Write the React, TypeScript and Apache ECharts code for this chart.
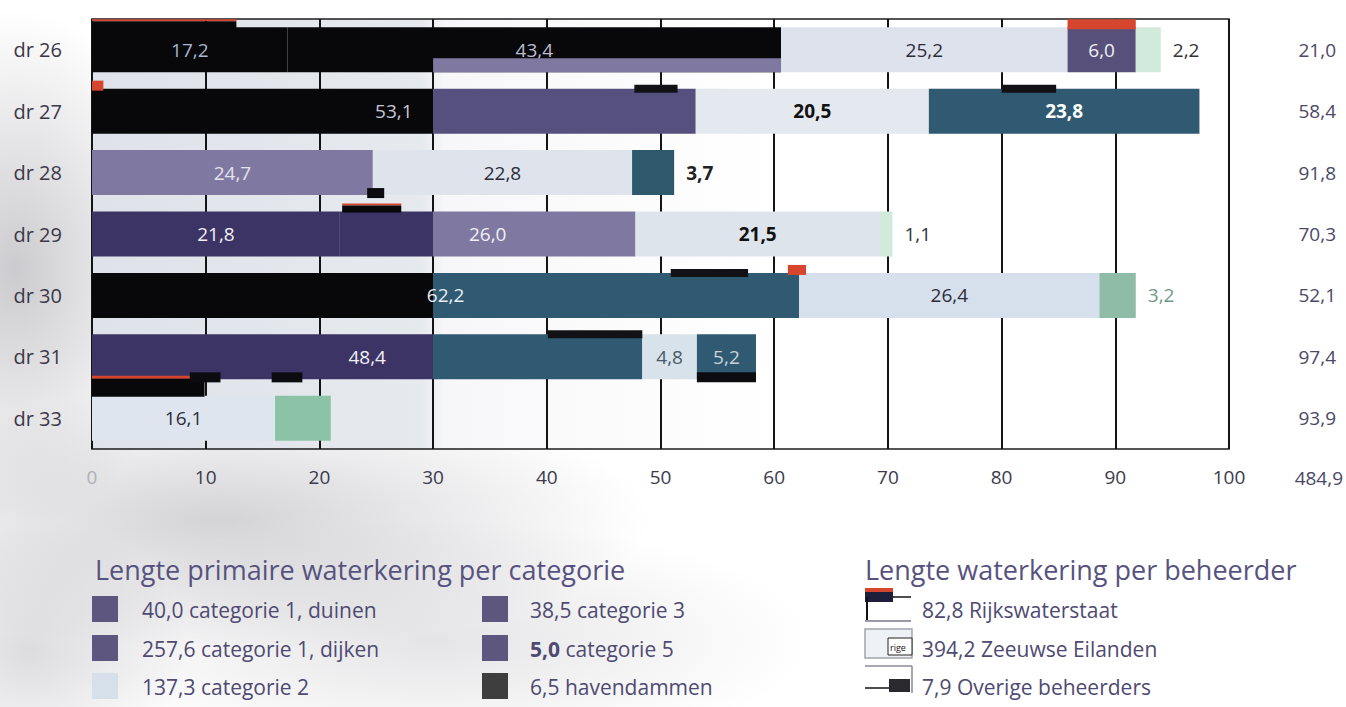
import React, { useEffect, useRef } from "react";
import * as echarts from "echarts";

// Dijkringen (rows, top to bottom)
const dijkringen = ["dr 26", "dr 27", "dr 28", "dr 29", "dr 30", "dr 31", "dr 33"];

// Length of primary flood defence (km) per dijkring and category; null = absent
const duinen = [17.2, null, null, 21.8, null, null, null];
const dijken = [43.4, 53.1, 24.7, 26.0, 62.2, 48.4, null];
const categorie2 = [25.2, 20.5, 22.8, 21.5, 26.4, 4.8, 16.1];
const categorie3 = [6.0, 23.8, 3.7, null, null, 5.2, null];
const categorie5 = [null, null, null, null, null, null, 4.9];
const havendammen = [2.2, null, null, 1.1, 3.2, null, null];

// Totals printed in the right-hand column and under it
const totaalLabels = ["21,0", "58,4", "91,8", "70,3", "52,1", "97,4", "93,9"];
const totaalGeheel = "484,9";

// Legend: per category
const categorieNamen = [
  "categorie 1, duinen",
  "categorie 1, dijken",
  "categorie 2",
  "categorie 3",
  "categorie 5",
  "havendammen",
];
const categorieTotalen = ["40,0", "257,6", "137,3", "38,5", "5,0", "6,5"];

// Legend: per manager
const beheerderNamen = ["Rijkswaterstaat", "Zeeuwse Eilanden", "Overige beheerders"];
const beheerderTotalen = ["82,8", "394,2", "7,9"];

// Marking strips along the bars: [row, from km, to km, kind]
const markeringen = [
  [0, 0, 12.7, 0],
  [0, 85.8, 91.8, 2],
  [1, 0, 1.0, 2],
  [3, 22.0, 27.2, 0],
  [4, 61.2, 62.8, 2],
  [6, 0, 9.9, 1],
  [1, 47.7, 51.5, 3],
  [1, 80.0, 84.8, 3],
  [5, 40.1, 48.4, 3],
  [4, 50.9, 57.7, 3],
  [2, 24.2, 25.7, 4],
  [5, 8.6, 11.3, 4],
  [5, 15.8, 18.5, 4],
  [5, 53.2, 58.4, 4],
  [0, 30, 60.6, 5],
];

const FONT = '"Open Sans", "Noto Sans", sans-serif';
const BAR_W = 45;
const SPLIT_AT = 30;

const C = {
  black: "#08080b",
  dpurple: "#3c3464",
  purple: "#55507d",
  lav: "#7f79a1",
  teal: "#2f5a72",
  mint: "#8fbca6",
  paleMint: "#d2eadc",
  green: "#8cc3a6",
  red: "#d6452e",
};

type Fill = string | [string, string] | null;

// Fill per series (category) and row; pairs change colour at SPLIT_AT km
const fills: Fill[][] = [
  [C.black, null, null, C.dpurple, null, null, null],
  [C.black, [C.black, C.purple], C.lav, [C.dpurple, C.lav], [C.black, C.teal], [C.dpurple, C.teal], null],
  ["#dde2ec", "#e4e8ef", "#dfe4ec", "#dde4ec", "#d6e0ec", "#d8e2ea", "#dfe5ee"],
  ["#56507a", C.teal, "#2e586c", null, null, C.teal, null],
  [null, null, null, null, null, null, C.green],
  [C.paleMint, null, null, C.paleMint, C.mint, null, null],
];

// Label style per series and row: [colour, bold, outside]
type Lbl = [string, boolean, boolean] | null;
const labelStyles: Lbl[][] = [
  [["#a9b6cf", false, false], null, null, ["#f0f0f4", false, false], null, null, null],
  [
    ["#bdbdd0", false, false],
    ["#c6c8d6", false, false],
    ["#e4e2ec", false, false],
    ["#f0f0f4", false, false],
    ["#e8eef4", false, false],
    ["#f0f0f4", false, false],
    null,
  ],
  [
    ["#2c2c38", false, false],
    ["#111111", true, false],
    ["#2c2c38", false, false],
    ["#111111", true, false],
    ["#2c2c38", false, false],
    ["#4a5a68", false, false],
    ["#2c2c38", false, false],
  ],
  [["#f0f0f4", false, false], ["#ffffff", true, false], ["#222222", true, true], null, null, ["#c8d2da", false, false], null],
  [null, null, null, null, null, null, null],
  [["#333333", false, true], null, null, ["#333333", false, true], ["#6e9a8a", false, true], null, null],
];

const legendSwatches = ["#5d5780", "#5d5780", "#d5e0ea", "#5d5780", "#5d5780", "#3e3e3e"];

const fmt = (v: number) => v.toFixed(1).replace(".", ",");

function buildBarSeries() {
  const seriesValues = [duinen, dijken, categorie2, categorie3, categorie5, havendammen];
  const cumulative = dijkringen.map(() => 0);
  return seriesValues.map((vals, si) => ({
    type: "bar",
    name: categorieNamen[si],
    stack: "lengte",
    barWidth: BAR_W,
    z: 2,
    label: {
      show: true,
      position: "inside",
      fontFamily: FONT,
      fontSize: 19,
      formatter: (p: any) => fmt(p.value as number),
    },
    data: vals.map((v, ri) => {
      if (v == null) return "-";
      const start = cumulative[ri];
      cumulative[ri] += v;
      const f = fills[si][ri] as Fill;
      let color: any = f;
      if (Array.isArray(f)) {
        const o = Math.max(0, Math.min(1, (SPLIT_AT - start) / v));
        color = new echarts.graphic.LinearGradient(0, 0, 1, 0, [
          { offset: 0, color: f[0] },
          { offset: o, color: f[0] },
          { offset: o, color: f[1] },
          { offset: 1, color: f[1] },
        ]);
      }
      const ls = labelStyles[si][ri];
      return {
        value: v,
        itemStyle: { color },
        label: ls
          ? {
              show: true,
              color: ls[0],
              fontWeight: ls[1] ? "bold" : "normal",
              position: ls[2] ? "right" : "inside",
              distance: 12,
            }
          : { show: false },
      };
    }),
  }));
}

function markRenderItem(_params: any, api: any) {
  const row = api.value(0);
  const a = api.coord([api.value(1), row]);
  const b = api.coord([api.value(2), row]);
  const kind = api.value(3);
  const x = a[0];
  const w = Math.max(1, b[0] - a[0]);
  const top = a[1] - BAR_W / 2;
  const bottom = a[1] + BAR_W / 2;
  const rect = (y0: number, y1: number, fill: string) => ({
    type: "rect",
    shape: { x, y: y0, width: w, height: y1 - y0 },
    style: { fill },
  });
  let children: any[] = [];
  if (kind === 0) children = [rect(top - 8, top - 6, C.red), rect(top - 6, top + 1, C.black)];
  else if (kind === 1) children = [rect(top - 20, top - 17, C.red), rect(top - 17, top + 1, C.black)];
  else if (kind === 2) children = [rect(top - 8, top + 2, C.red)];
  else if (kind === 3) children = [rect(top - 4, top + 4, "#111116")];
  else if (kind === 4) children = [rect(bottom - 7, bottom + 3, "#0c0c10")];
  else children = [rect(bottom - 14, bottom, C.lav)];
  return { type: "group", children };
}

function text(x: number, y: number, t: string, size: number, fill: string, extra: any = {}) {
  return {
    type: "text",
    x,
    y,
    silent: true,
    style: {
      text: t,
      fill,
      font: `${size}px ${FONT}`,
      textVerticalAlign: "middle",
      verticalAlign: "middle",
      ...extra,
    },
  };
}

function buildLegend() {
  const els: any[] = [];
  const legendColor = "#4e4a72";
  const titleColor = "#57537f";
  const rowY = [610, 649, 687];
  // Category legend
  els.push(text(95, 569, "Lengte primaire waterkering per categorie", 27, titleColor));
  categorieNamen.forEach((name, i) => {
    const col = i < 3 ? 0 : 1;
    const r = i % 3;
    const sx = col === 0 ? 92 : 482;
    const tx = col === 0 ? 142 : 530;
    els.push({
      type: "rect",
      silent: true,
      shape: { x: sx, y: rowY[r] - 14, width: 26, height: 26 },
      style: { fill: legendSwatches[i] },
    });
    if (i === 4) {
      els.push(
        text(tx, rowY[r], `{b|${categorieTotalen[i]}} ${name}`, 21, legendColor, {
          rich: { b: { fontWeight: "bold", fontSize: 21, fontFamily: FONT, fill: legendColor, color: legendColor } },
        })
      );
    } else {
      els.push(text(tx, rowY[r], `${categorieTotalen[i]} ${name}`, 21, legendColor));
    }
  });

  // Manager legend
  els.push(text(865, 569, "Lengte waterkering per beheerder", 27, titleColor));
  beheerderNamen.forEach((name, i) => {
    els.push(text(922, rowY[i], `${beheerderTotalen[i]} ${name}`, 21, legendColor));
  });
  // icon: Rijkswaterstaat
  els.push(
    { type: "rect", silent: true, shape: { x: 865, y: 588, width: 28, height: 4 }, style: { fill: C.red } },
    { type: "rect", silent: true, shape: { x: 865, y: 592, width: 28, height: 10 }, style: { fill: "#1e1e3c" } },
    { type: "line", silent: true, shape: { x1: 893, y1: 597, x2: 911, y2: 597 }, style: { stroke: "#111", lineWidth: 1.5 } },
    { type: "line", silent: true, shape: { x1: 867, y1: 597, x2: 867, y2: 620 }, style: { stroke: "#111", lineWidth: 2 } },
    { type: "line", silent: true, shape: { x1: 865, y1: 621, x2: 911, y2: 621 }, style: { stroke: "#9a9aa6", lineWidth: 2 } }
  );
  // icon: Zeeuwse Eilanden
  els.push(
    {
      type: "rect",
      silent: true,
      shape: { x: 865, y: 629, width: 47, height: 29 },
      style: { fill: "#eef2f7", stroke: "#a2a5b0", lineWidth: 1.5 },
    },
    {
      type: "rect",
      silent: true,
      shape: { x: 888, y: 638, width: 24, height: 17 },
      style: { fill: "#ffffff", stroke: "#222", lineWidth: 1 },
    },
    text(890, 647, "rige", 9, "#111")
  );
  // icon: Overige beheerders
  els.push(
    { type: "line", silent: true, shape: { x1: 865, y1: 666, x2: 912, y2: 666 }, style: { stroke: "#a8a8b4", lineWidth: 2 } },
    { type: "line", silent: true, shape: { x1: 912, y1: 666, x2: 912, y2: 693 }, style: { stroke: "#8a8a96", lineWidth: 1.5 } },
    { type: "line", silent: true, shape: { x1: 865, y1: 688, x2: 890, y2: 688 }, style: { stroke: "#111", lineWidth: 1.5 } },
    { type: "rect", silent: true, shape: { x: 889, y: 679, width: 21, height: 13 }, style: { fill: "#2a2a2e" } }
  );

  // grand total next to the axis labels
  els.push(text(1343, 478, totaalGeheel, 19, "#4b4868", { textAlign: "right", align: "right" }));
  return els;
}

export default function App() {
  const ref = useRef<HTMLDivElement>(null);

  useEffect(() => {
    if (!ref.current) return;
    const chart = echarts.init(ref.current, null, { renderer: "svg" });
    const option: any = {
      animation: false,
      textStyle: { fontFamily: FONT },
      grid: {
        left: 92,
        right: 117,
        top: 19,
        bottom: 258,
        show: true,
        borderColor: "#1c1c1c",
        borderWidth: 1.5,
        backgroundColor: new echarts.graphic.LinearGradient(0, 0, 1, 0, [
          { offset: 0, color: "#dfe2e8" },
          { offset: 0.29, color: "#e6e9ee" },
          { offset: 0.31, color: "#f7f7f9" },
          { offset: 0.6, color: "#ffffff" },
          { offset: 1, color: "#ffffff" },
        ]),
      },
      xAxis: {
        type: "value",
        min: 0,
        max: 100,
        interval: 10,
        axisLine: { show: false },
        axisTick: { show: false },
        splitLine: { show: true, lineStyle: { color: "#141414", width: 2 } },
        axisLabel: {
          margin: 18,
          fontSize: 19,
          color: "#3b3a4c",
          fontFamily: FONT,
          showMaxLabel: true,
          formatter: (v: number) => (v === 0 ? "{z|0}" : String(v)),
          rich: { z: { color: "#b0b0b8", fontSize: 19, fontFamily: FONT } },
        },
      },
      yAxis: [
        {
          type: "category",
          data: dijkringen,
          inverse: true,
          axisLine: { show: false },
          axisTick: { show: false },
          axisLabel: { margin: 30, fontSize: 20, color: "#3a3848", fontFamily: FONT },
        },
        {
          type: "category",
          position: "right",
          data: totaalLabels,
          inverse: true,
          axisLine: { show: false },
          axisTick: { show: false },
          axisLabel: { margin: 107, align: "right", fontSize: 19, color: "#4b4868", fontFamily: FONT },
        },
      ],
      series: [
        ...buildBarSeries(),
        {
          type: "custom",
          name: "markeringen",
          z: 3,
          renderItem: markRenderItem,
          encode: { x: [1, 2], y: 0 },
          data: markeringen,
          silent: true,
        },
      ],
      graphic: buildLegend(),
    };
    chart.setOption(option);
    return () => chart.dispose();
  }, []);

  return (
    <div
      ref={ref}
      style={{
        position: "absolute",
        left: 0,
        top: 0,
        width: 1346,
        height: 707,
        background: [
          "radial-gradient(ellipse 170px 260px at 15px 270px, rgba(120,120,130,0.38), rgba(120,120,130,0) 100%)",
          "radial-gradient(ellipse 430px 130px at 220px 520px, rgba(130,130,140,0.35), rgba(130,130,140,0) 100%)",
          "radial-gradient(ellipse 380px 120px at 430px 640px, rgba(150,150,158,0.25), rgba(150,150,158,0) 100%)",
          "radial-gradient(ellipse 160px 130px at 30px 650px, rgba(140,140,150,0.3), rgba(140,140,150,0) 100%)",
          "#ffffff",
        ].join(", "),
      }}
    />
  );
}
